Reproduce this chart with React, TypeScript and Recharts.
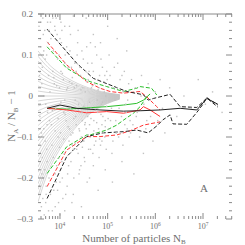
import { ComposedChart, Line, Scatter, XAxis, YAxis } from 'recharts';

// x values are log10(N_B), y values are N_A/N_B - 1
const X_DOMAIN = [3.539, 7.608];
const Y_DOMAIN = [-0.3, 0.2];

const xMajorTicks = [4, 5, 6, 7];
const yMajorTicks = [-0.3, -0.2, -0.1, 0, 0.1, 0.2];
const yTickLabels = ['\u22120.3', '\u22120.2', '\u22120.1', '0', '0.1', '0.2'];

const xMinorTicks: number[] = [];
for (let d = 3; d <= 7; d++) {
  for (let k = 2; k <= 9; k++) {
    const v = d + Math.log10(k);
    if (v > X_DOMAIN[0] && v < X_DOMAIN[1]) xMinorTicks.push(v);
  }
}
const yMinorTicks: number[] = [];
for (let i = -15; i <= 10; i++) {
  if (i % 5 !== 0) yMinorTicks.push(i * 0.02);
}
const xTicks = [...xMajorTicks, ...xMinorTicks].sort((a, b) => a - b);
const yTicks = [...yMajorTicks, ...yMinorTicks].sort((a, b) => a - b);

// grey discreteness fan
const fanX = [3.54, 3.75, 4.0, 4.25, 4.5, 4.75, 5.0, 5.25];
const fanShape = [1, 0.72, 0.5, 0.34, 0.22, 0.13, 0.07, 0.03];
const fanStart = [
  0.11, 0.097, 0.085, 0.072, 0.06, 0.048, 0.036, 0.024, 0.012, 0,
  -0.012, -0.024, -0.036, -0.048, -0.06, -0.072, -0.085, -0.097, -0.11, -0.122,
  -0.135, -0.148, -0.16, -0.173, -0.186, -0.2, -0.214, -0.228, -0.243, -0.258,
];

const blackSolid = [[3.73, -0.03], [4.0, -0.022], [4.35, -0.03], [4.84, -0.034], [5.33, -0.037], [5.68, -0.036], [6.1, -0.034], [6.52, -0.03], [6.87, -0.034], [7.08, -0.006], [7.31, -0.02]];
const redSolid = [[3.73, -0.03], [4.14, -0.034], [4.56, -0.041], [4.98, -0.038], [5.33, -0.042], [5.68, -0.034], [5.75, -0.026], [5.89, -0.034], [6.1, -0.05]];
const greenSolid = [[3.73, -0.03], [4.14, -0.032], [4.56, -0.029], [4.98, -0.026], [5.33, -0.022], [5.61, -0.018], [5.75, -0.01], [5.89, 0.005]];

const blackDashUpper = [[3.73, 0.163], [4.35, 0.08], [4.7, 0.043], [5.05, 0.027], [5.4, 0.011], [5.75, 0.003], [5.85, -0.01], [5.96, -0.006], [6.31, 0.004], [6.52, -0.026], [6.87, -0.028], [7.08, -0.005], [7.31, -0.027]];
const redDashUpper = [[3.73, 0.132], [4.14, 0.076], [4.56, 0.035], [4.84, 0.019], [5.05, 0.011], [5.33, 0.007], [5.68, 0.011], [5.82, -0.002], [6.03, -0.026], [6.1, -0.034]];
const greenDashUpper = [[3.73, 0.12], [4.14, 0.068], [4.56, 0.039], [4.63, 0.035], [4.98, 0.023], [5.33, 0.011], [5.61, 0.019], [5.68, 0.023], [5.92, 0.019], [6.03, 0.0025]];

const blackDashLower = [[3.73, -0.25], [4.14, -0.148], [4.56, -0.099], [4.9, -0.09], [5.33, -0.087], [5.61, -0.083], [5.85, -0.09], [6.03, -0.073], [6.16, -0.058], [6.31, -0.046], [6.37, -0.068], [6.66, -0.069], [6.87, -0.04], [7.0, -0.02], [7.08, -0.004], [7.31, -0.022]];
const redDashLower = [[3.73, -0.221], [4.14, -0.132], [4.56, -0.099], [4.84, -0.099], [5.19, -0.095], [5.47, -0.085], [5.75, -0.071], [6.1, -0.063]];
const greenDashLower = [[3.73, -0.189], [4.14, -0.124], [4.56, -0.095], [4.63, -0.095], [4.98, -0.083], [5.19, -0.071], [5.33, -0.059], [5.54, -0.042], [5.68, -0.026], [5.82, -0.002]];

const cloud = [
  [3.56, 0.17], [3.58, -0.05], [3.6, 0.12], [3.57, -0.22], [3.62, 0.03], [3.59, -0.14], [3.64, 0.19], [3.61, -0.27], [3.66, -0.08], [3.63, 0.07],
  [3.68, -0.18], [3.65, 0.15], [3.7, -0.02], [3.67, -0.29], [3.72, 0.1], [3.69, -0.11], [3.74, 0.18], [3.71, -0.24], [3.76, 0.05], [3.73, -0.16],
  [3.78, -0.06], [3.75, 0.13], [3.77, -0.2], [3.79, 0.01], [3.56, -0.1], [3.6, 0.08], [3.64, -0.25], [3.68, 0.16], [3.72, -0.13], [3.76, -0.28],
  [3.58, 0.2], [3.62, -0.19], [3.66, 0.11], [3.7, -0.26], [3.74, -0.04],
  [3.81, 0.14], [3.83, -0.12], [3.85, 0.06], [3.87, -0.23], [3.89, 0.17], [3.91, -0.03], [3.93, -0.17], [3.95, 0.09], [3.97, -0.26], [3.99, 0.02],
  [4.01, -0.09], [4.03, 0.13], [4.05, -0.2], [4.07, 0.04], [4.09, -0.14], [4.11, 0.1], [4.13, -0.06], [4.15, -0.22], [4.17, 0.07], [4.19, -0.11],
  [3.82, -0.07], [3.86, 0.11], [3.9, -0.19], [3.94, 0.15], [3.98, -0.15], [4.02, 0.06], [4.06, -0.25], [4.1, -0.01], [4.14, 0.12], [4.18, -0.17],
  [3.84, -0.28], [3.88, 0.03], [3.92, 0.19], [3.96, -0.1], [4.0, -0.21], [4.04, 0.16], [4.08, -0.04], [4.12, -0.24], [4.16, 0.02], [4.2, -0.08],
  [4.21, 0.11], [4.23, -0.16], [4.25, 0.03], [4.27, -0.09], [4.29, -0.2], [4.31, 0.08], [4.33, -0.05], [4.35, -0.13], [4.37, 0.13], [4.39, -0.02],
  [4.41, -0.18], [4.43, 0.05], [4.45, -0.1], [4.47, -0.06], [4.49, 0.09], [4.51, -0.15], [4.53, 0.01], [4.55, -0.08], [4.57, -0.21], [4.59, 0.04],
  [4.22, -0.03], [4.26, -0.12], [4.3, 0.02], [4.34, -0.07], [4.38, -0.14], [4.42, 0.07], [4.46, -0.04], [4.5, -0.11], [4.54, 0.06], [4.58, -0.05],
  [4.24, 0.07], [4.28, -0.24], [4.32, -0.01], [4.36, 0.1], [4.4, -0.08], [4.44, -0.17], [4.48, 0.02], [4.52, -0.07], [4.56, 0.12], [4.6, -0.13],
  [4.61, 0.06], [4.63, -0.1], [4.65, -0.03], [4.67, 0.08], [4.69, -0.14], [4.71, -0.06], [4.73, 0.03], [4.75, -0.11], [4.77, 0.1], [4.79, -0.04],
  [4.81, -0.08], [4.83, 0.05], [4.85, -0.12], [4.87, -0.02], [4.89, 0.07], [4.91, -0.09], [4.93, 0.01], [4.95, -0.06], [4.97, -0.13], [4.99, 0.04],
  [4.62, -0.07], [4.66, 0.02], [4.7, -0.17], [4.74, 0.12], [4.78, -0.01], [4.82, -0.15], [4.86, 0.09], [4.9, -0.05], [4.94, -0.1], [4.98, 0.06],
  [4.64, 0.13], [4.72, -0.12], [4.8, 0.04], [4.88, -0.07], [4.96, 0.0],
  [5.02, -0.08], [5.05, 0.05], [5.08, -0.03], [5.11, -0.11], [5.14, 0.07], [5.17, -0.06], [5.2, 0.02], [5.23, -0.1], [5.26, 0.04], [5.29, -0.05],
  [5.32, -0.12], [5.35, 0.06], [5.38, -0.02], [5.41, -0.08], [5.44, 0.03], [5.47, -0.06], [5.03, 0.1], [5.09, -0.14], [5.15, -0.01], [5.21, 0.08],
  [5.27, -0.09], [5.33, 0.01], [5.39, -0.04], [5.45, -0.1], [5.5, 0.04],
  [5.53, -0.07], [5.58, 0.02], [5.62, -0.04], [5.67, -0.1], [5.71, 0.05], [5.76, -0.02], [5.8, -0.08], [5.85, 0.03], [5.9, -0.05], [5.95, -0.11],
  [6.0, 0.01], [6.05, -0.06], [6.1, 0.04], [6.15, -0.03], [6.2, -0.09],
  [6.3, 0.02], [6.45, -0.05], [6.6, 0.0], [6.75, -0.03], [6.9, 0.04], [7.05, -0.02], [7.2, 0.01], [7.4, -0.04],
  [4.02, 0.18], [4.2, 0.17], [4.38, 0.16], [4.55, 0.19], [4.7, 0.15], [4.85, 0.13], [5.0, 0.17], [5.2, 0.14], [5.4, 0.11], [4.28, 0.195],
  [4.62, -0.2], [4.8, -0.23], [4.95, -0.18], [5.1, -0.21], [5.3, -0.16], [5.55, -0.19], [5.75, -0.14], [4.45, -0.27],
  [3.84, -0.035], [3.87, 0.045], [3.9, -0.085], [3.93, 0.025], [3.96, -0.055], [3.99, -0.125], [4.02, -0.015], [4.05, 0.055], [4.08, -0.105], [4.11, -0.045],
  [4.14, 0.015], [4.17, -0.075], [4.2, 0.035], [4.23, -0.095], [4.26, 0.045], [4.29, -0.055], [4.32, -0.115], [4.35, 0.025], [4.38, -0.035], [4.41, -0.085],
  [4.44, 0.015], [4.47, -0.125], [4.5, -0.025], [4.53, -0.065], [4.56, 0.035], [4.59, -0.095], [4.62, -0.015], [4.65, -0.055], [4.68, 0.025], [4.71, -0.085],
  [4.74, -0.035], [4.77, -0.065], [4.8, 0.015], [4.83, -0.105], [4.86, -0.045], [4.89, -0.015], [4.92, 0.035], [4.95, -0.075], [4.98, -0.025], [5.01, -0.055],
  [3.86, -0.15], [3.92, -0.21], [3.98, 0.1], [4.04, -0.16], [4.1, 0.08], [4.16, -0.19], [4.22, 0.15], [4.28, -0.13], [4.34, 0.06], [4.4, -0.19],
  [4.46, 0.11], [4.52, -0.16], [4.58, 0.08], [4.64, -0.13], [4.7, 0.06], [4.76, -0.09], [4.82, 0.02], [4.88, -0.11], [4.94, 0.05], [5.06, -0.06],
  [5.12, 0.02], [5.18, -0.09], [5.24, -0.03], [5.3, 0.05], [5.36, -0.07], [5.42, -0.01], [5.48, -0.09], [5.6, -0.05], [5.7, 0.0], [5.82, -0.06],
  [3.57, 0.05], [3.61, -0.09], [3.65, -0.2], [3.69, 0.09], [3.73, -0.07], [3.77, 0.16], [3.59, 0.14], [3.63, -0.15], [3.67, 0.0], [3.71, -0.22],
  [3.6, 0.18], [3.7, 0.195], [3.8, 0.18], [3.9, 0.16], [4.0, 0.14], [3.85, 0.19], [4.1, 0.17], [3.65, 0.2],
  [3.8, -0.24], [3.9, -0.27], [4.0, -0.29], [3.95, -0.23], [4.1, -0.28], [4.25, -0.26],
];

const toPoints = (pairs: number[][]) => pairs.map(([x, y]) => ({ x, y }));
const fanLines = fanStart.map((s) => fanX.map((x, i) => ({ x, y: s * fanShape[i] })));

const TICK = '#8a8a8a';
const TEXT = '#6e6e6e';
const FONT = '"Liberation Serif", "DejaVu Serif", serif';

const isMajor = (list: number[], v: number) => list.some((m) => Math.abs(m - v) < 1e-6);

function BottomTick({ x, y, payload }: any) {
  const major = isMajor(xMajorTicks, payload.value);
  return (
    <g>
      <line x1={x} x2={x} y1={y} y2={y - (major ? 6 : 3)} stroke={TICK} />
      {major && (
        <text x={x} y={y + 10} textAnchor="middle" fontSize={8} fill={TEXT} fontFamily={FONT}>
          10<tspan dy={-3} fontSize={5.5}>{payload.value}</tspan>
        </text>
      )}
    </g>
  );
}

function TopTick({ x, y, payload }: any) {
  const major = isMajor(xMajorTicks, payload.value);
  return <line x1={x} x2={x} y1={y} y2={y + (major ? 6 : 3)} stroke={TICK} />;
}

function LeftTick({ x, y, payload }: any) {
  const idx = yMajorTicks.findIndex((m) => Math.abs(m - payload.value) < 1e-6);
  return (
    <g>
      <line x1={x} x2={x + (idx >= 0 ? 6 : 3)} y1={y} y2={y} stroke={TICK} />
      {idx >= 0 && (
        <text x={x - 5} y={y + 3} textAnchor="end" fontSize={9} fill={TEXT} fontFamily={FONT}>
          {yTickLabels[idx]}
        </text>
      )}
    </g>
  );
}

function RightTick({ x, y, payload }: any) {
  const major = isMajor(yMajorTicks, payload.value);
  return <line x1={x} x2={x - (major ? 6 : 3)} y1={y} y2={y} stroke={TICK} />;
}

const Dot = (p: any) => <rect x={p.cx - 0.7} y={p.cy - 0.7} width={1.4} height={1.4} fill="#c2c2c2" />;

export default function App() {
  return (
    <div style={{ position: 'absolute', left: 0, top: 0, width: 245, height: 245, background: '#fff' }}>
      <ComposedChart width={245} height={245} margin={{ top: 0, right: 0, bottom: 0, left: 0 }}>
        <XAxis dataKey="x" type="number" domain={X_DOMAIN} allowDataOverflow ticks={xTicks} interval={0}
          height={26} tickSize={0} tickMargin={0} axisLine={false} tickLine={false} tick={<BottomTick />} />
        <XAxis xAxisId="top" orientation="top" dataKey="x" type="number" domain={X_DOMAIN} allowDataOverflow ticks={xTicks} interval={0}
          height={14} tickSize={0} tickMargin={0} axisLine={{ stroke: TICK }} tickLine={false} tick={<TopTick />} />
        <YAxis dataKey="y" type="number" domain={Y_DOMAIN} allowDataOverflow ticks={yTicks} interval={0}
          width={38} tickSize={0} tickMargin={0} axisLine={false} tickLine={false} tick={<LeftTick />} />
        <YAxis yAxisId="right" orientation="right" type="number" domain={Y_DOMAIN} allowDataOverflow ticks={yTicks} interval={0}
          width={13} tickSize={0} tickMargin={0} axisLine={false} tickLine={false} tick={<RightTick />} />

        {fanLines.map((d, i) => (
          <Line key={'fan' + i} data={d} dataKey="y" type="monotone" stroke="#c6c6c6" strokeWidth={0.7} dot={false} isAnimationActive={false} />
        ))}
        <Scatter data={toPoints(cloud)} dataKey="y" shape={Dot} isAnimationActive={false} />

        <Line data={toPoints(greenDashUpper)} dataKey="y" stroke="#2abf2a" strokeDasharray="4 2" strokeWidth={1} dot={false} isAnimationActive={false} />
        <Line data={toPoints(greenDashLower)} dataKey="y" stroke="#2abf2a" strokeDasharray="4 2" strokeWidth={1} dot={false} isAnimationActive={false} />
        <Line data={toPoints(redDashUpper)} dataKey="y" stroke="#ff3535" strokeDasharray="4 2" strokeWidth={1} dot={false} isAnimationActive={false} />
        <Line data={toPoints(redDashLower)} dataKey="y" stroke="#ff3535" strokeDasharray="4 2" strokeWidth={1} dot={false} isAnimationActive={false} />
        <Line data={toPoints(blackDashUpper)} dataKey="y" stroke="#222" strokeDasharray="4 2" strokeWidth={1} dot={false} isAnimationActive={false} />
        <Line data={toPoints(blackDashLower)} dataKey="y" stroke="#222" strokeDasharray="4 2" strokeWidth={1} dot={false} isAnimationActive={false} />
        <Line data={toPoints(greenSolid)} dataKey="y" stroke="#2abf2a" strokeWidth={1} dot={false} isAnimationActive={false} />
        <Line data={toPoints(redSolid)} dataKey="y" stroke="#ff3535" strokeWidth={1} dot={false} isAnimationActive={false} />
        <Line data={toPoints(blackSolid)} dataKey="y" stroke="#222" strokeWidth={1} dot={false} isAnimationActive={false} />
      </ComposedChart>
      <svg width={245} height={245} style={{ position: 'absolute', left: 0, top: 0, pointerEvents: 'none' }}>
        <text transform="translate(15,116) rotate(-90)" textAnchor="middle" fontSize={11} fill={TEXT} fontFamily={FONT}>
          N<tspan fontSize={7} dy={3}>A</tspan>
          <tspan dy={-3}> / N</tspan>
          <tspan fontSize={7} dy={3}>B</tspan>
          <tspan dy={-3}> {'\u2212'} 1</tspan>
        </text>
        <text x={134} y={242} textAnchor="middle" fontSize={11} fill={TEXT} fontFamily={FONT}>
          Number of particles N<tspan fontSize={7} dy={2}>B</tspan>
        </text>
        <text x={204} y={192} textAnchor="middle" fontSize={11} fill={TEXT} fontFamily={FONT}>A</text>
      </svg>
    </div>
  );
}
